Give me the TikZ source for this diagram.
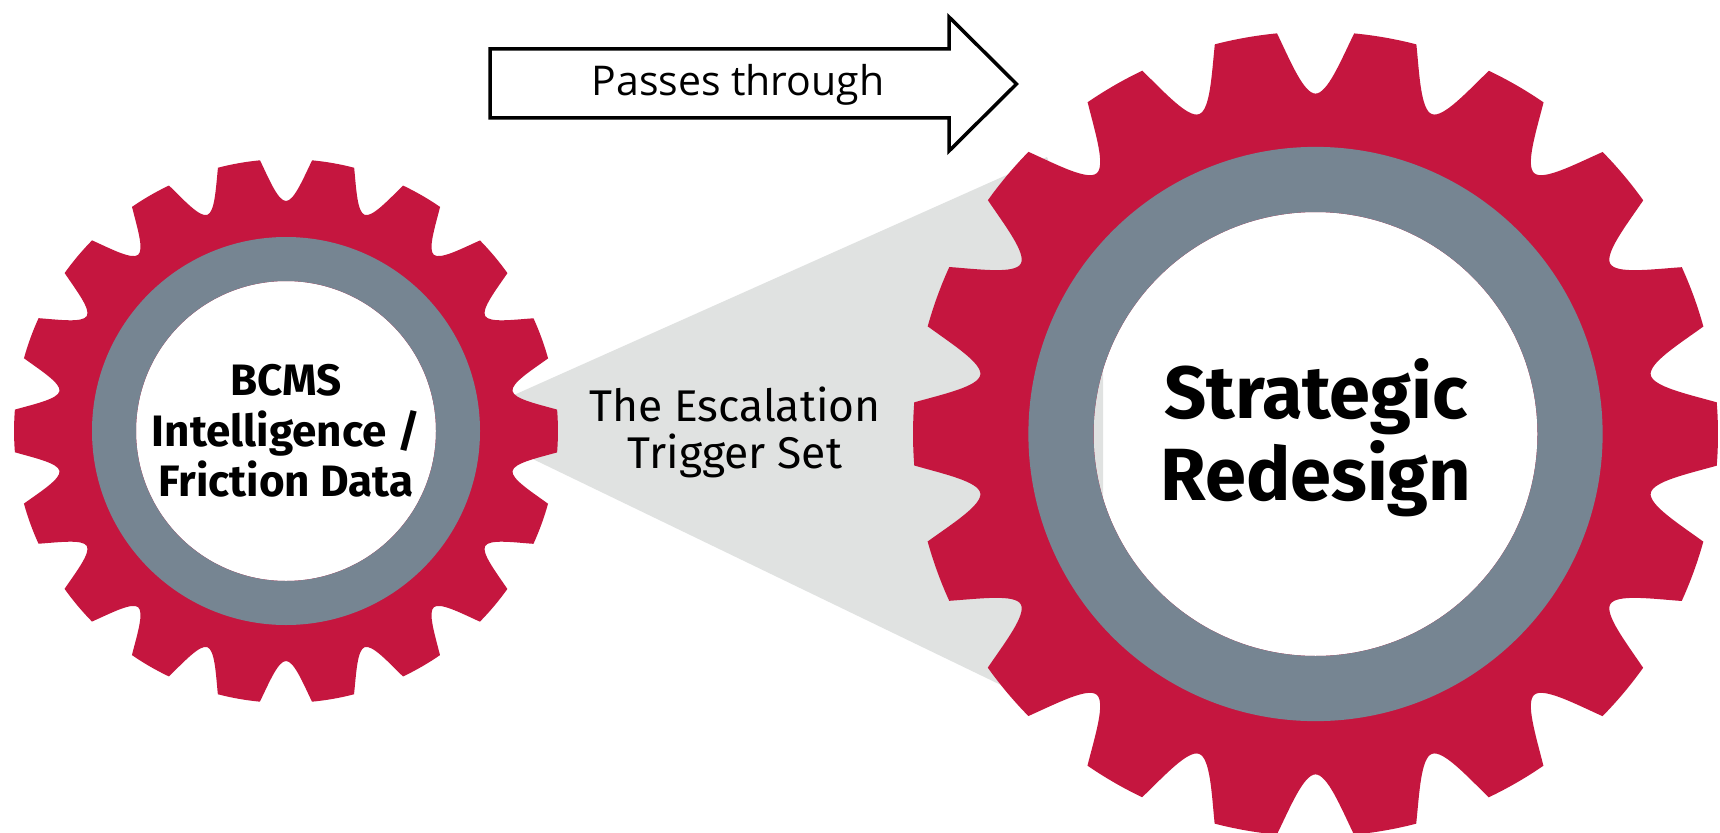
\documentclass[tikz,border=0pt]{standalone}
\usepackage{fontspec}
\setmainfont{Fira Sans}
\newfontfamily\passfont{Open Sans}
\definecolor{gearred}{HTML}{C5163F}
\definecolor{ringgrey}{HTML}{768592}
\definecolor{fangrey}{HTML}{E0E2E1}
\newcommand{\gearshape}[3]{%
  \begin{scope}[shift={(#1,#2)},x=1pt,y=1pt,scale=#3]
    \fill[gearred,even odd rule] ([rotate=10]270.7,-26)
      \foreach \a in {10,30,...,350} {
        .. controls ([rotate=\a]252,-17) and ([rotate=\a]230,-8) .. ([rotate=\a]230,0)
        .. controls ([rotate=\a]230,8) and ([rotate=\a]252,17) .. ([rotate=\a]270.7,26)
        arc[start angle=\a+5.5, end angle=\a+14.5, radius=272]
      } -- cycle (0,0) circle[radius=150];
    \fill[ringgrey,even odd rule] (0,0) circle[radius=194] (0,0) circle[radius=150];
  \end{scope}}
\tikzset{
  gearlabel/.style={inner sep=0pt,align=center,text=black},
}
\begin{document}
\begin{tikzpicture}[x=1pt,y=-1pt]
  \clip (0,0) rectangle (1720,832);
  \fill[white] (0,0) rectangle (1720,832);
  \fill[fangrey] (505,399) -- (1047,157) -- (1103,300) -- (1103,540) -- (1003,686) -- (510,448) -- cycle;
  \gearshape{286}{431}{1}
  \gearshape{1315.5}{434}{1.48}
  \draw[black,line width=3.5pt,miter limit=10,fill=white] (490,49) -- (949,49) -- (949,17) -- (1016.5,84) -- (949,151) -- (949,118) -- (490,118) -- cycle;
  \node[inner sep=0pt,font=\passfont\fontsize{41}{48}\selectfont] (pass) at (738,85) {Passes through};
  \node[inner sep=0pt,align=center,font=\fontsize{44.4}{47}\selectfont] (trigger) at (735,432) {The Escalation\\Trigger Set};
  \node[gearlabel,font=\bfseries\fontsize{44}{50.5}\selectfont] (bcms) at (286,431) {BCMS\\Intelligence /\\Friction Data};
  \node[gearlabel,font=\bfseries\fontsize{74}{82}\selectfont] (strategic) at (1316,438) {Strategic\\Redesign};
\end{tikzpicture}
\end{document}
